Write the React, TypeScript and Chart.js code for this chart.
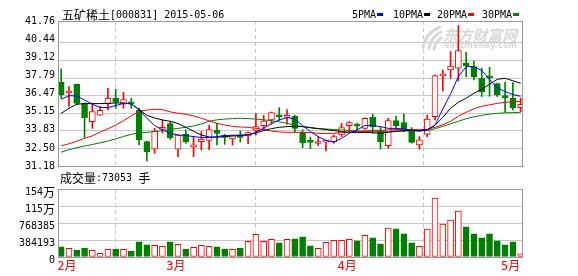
import React, { useEffect, useRef } from 'react';
import { Chart, registerables } from 'chart.js';

Chart.register(...registerables);

// ---------------- data ----------------
const stockTitle = '五矿稀土[000831] 2015-05-06';
const volumeTitle = '成交量:73053 手';
const maLegend = ['5PMA', '10PMA', '20PMA', '30PMA'];
const maColors = ['#0000ff', '#000000', '#ff0000', '#008000'];

const monthTickIndex = [0, 14, 36, 57];
const monthLabels = ['2月', '3月', '4月', '5月'];

const priceTickValues = [31.18, 32.5, 33.83, 35.15, 36.47, 37.79, 39.12, 40.44, 41.76];
const priceTickLabels = ['31.18', '32.50', '33.83', '35.15', '36.47', '37.79', '39.12', '40.44', '41.76'];
const priceGridValues = [32.5, 33.83, 35.15, 36.47, 37.79, 39.12, 40.44];

const volTickValues = [0, 384193, 768385, 1152578, 1536772];
const volTickLabels = ['0', '384193', '768385', '115万', '154万'];

const openPrices = [
  37.47, 36.67, 37.32, 35.89, 34.52, 35.01, 35.87, 36.27, 35.82, 35.90,
  35.37, 33.01, 32.44, 33.94, 34.37, 32.44, 33.56, 32.62, 33.01, 33.11,
  33.86, 33.39, 33.21, 33.49, 33.45, 33.86, 34.22, 34.64, 35.00, 34.84,
  34.93, 33.71, 32.99, 32.87, 32.98, 33.01, 33.51, 34.22, 34.24, 34.01,
  34.84, 33.75, 32.71, 34.59, 34.44, 33.94, 32.76, 33.56, 34.89, 37.95,
  38.40, 38.53, 38.90, 38.65, 37.77, 37.85, 37.38, 36.47, 36.27, 35.57,
];
const highPrices = [
  38.47, 37.15, 37.35, 35.92, 35.89, 35.65, 37.02, 36.95, 36.72, 36.27,
  35.52, 33.05, 34.01, 34.64, 34.52, 33.55, 33.89, 33.39, 33.77, 34.24,
  34.39, 33.56, 33.49, 33.81, 33.75, 35.12, 34.97, 35.24, 35.57, 35.42,
  35.00, 33.90, 33.36, 33.39, 33.13, 33.51, 34.39, 34.52, 34.39, 34.80,
  35.07, 34.09, 34.77, 34.94, 35.09, 34.07, 33.39, 35.01, 38.02, 38.40,
  39.78, 41.74, 39.73, 39.07, 38.53, 38.60, 37.40, 37.49, 37.45, 36.27,
];
const lowPrices = [
  36.27, 35.65, 35.80, 33.31, 34.01, 34.98, 35.39, 35.52, 35.52, 35.52,
  32.76, 31.56, 32.13, 33.64, 33.18, 31.89, 32.89, 31.89, 32.38, 32.41,
  32.76, 32.81, 32.76, 32.98, 32.85, 33.51, 33.86, 34.32, 34.61, 34.32,
  33.71, 32.56, 32.49, 32.72, 32.31, 32.89, 33.39, 33.77, 33.89, 33.94,
  33.64, 32.46, 32.51, 34.01, 33.77, 32.90, 32.44, 33.39, 34.64, 36.82,
  37.77, 37.57, 37.90, 37.65, 36.40, 36.42, 36.40, 35.24, 35.37, 35.27,
];
const closePrices = [
  36.52, 36.82, 35.89, 34.82, 35.27, 35.37, 36.27, 35.97, 36.17, 35.85,
  33.14, 32.26, 33.81, 34.06, 33.31, 33.51, 33.01, 32.69, 33.21, 33.92,
  33.62, 33.33, 33.47, 33.32, 33.69, 34.14, 34.56, 35.19, 34.88, 34.90,
  34.01, 32.94, 32.96, 32.92, 33.06, 33.39, 34.07, 34.44, 34.18, 34.77,
  34.13, 33.01, 34.59, 34.22, 33.89, 32.96, 33.14, 34.71, 37.98, 38.02,
  38.70, 39.86, 38.70, 37.90, 36.77, 37.80, 36.52, 36.32, 35.56, 35.82,
];

const ma5 = [
  36.19, 36.47, 36.44, 36.14, 35.82, 35.59, 35.57, 35.72, 35.89, 35.87,
  35.39, 34.77, 34.22, 33.89, 33.64, 33.51, 33.47, 33.39, 33.32, 33.32,
  33.39, 33.47, 33.49, 33.51, 33.51, 33.71, 34.01, 34.37, 34.64, 34.82,
  34.71, 34.22, 33.77, 33.39, 33.10, 32.98, 33.26, 33.64, 33.89, 34.22,
  34.22, 34.14, 34.01, 34.01, 33.96, 33.86, 33.81, 33.89, 34.26, 35.47,
  36.60, 37.90, 38.65, 38.65, 38.36, 37.68, 37.05, 36.78, 36.55, 36.42,
];
const ma10 = [
  35.14, 35.52, 35.82, 35.87, 35.87, 35.87, 35.89, 35.92, 35.92, 35.84,
  35.44, 34.99, 34.79, 34.64, 34.54, 34.37, 34.09, 33.79, 33.51, 33.36,
  33.34, 33.39, 33.44, 33.47, 33.54, 33.66, 33.84, 33.99, 34.09, 34.14,
  34.16, 34.14, 34.07, 33.99, 33.92, 33.84, 33.77, 33.71, 33.69, 33.71,
  33.68, 33.64, 33.71, 33.79, 33.83, 33.86, 33.86, 33.90, 34.24, 34.84,
  35.52, 35.97, 36.27, 36.65, 36.95, 37.32, 37.70, 37.77, 37.59, 37.40,
];
const ma20 = [
  32.70, 32.85, 33.05, 33.25, 33.45, 33.72, 33.98, 34.25, 34.58, 34.95,
  35.28, 35.39, 35.44, 35.42, 35.25, 35.14, 35.07, 34.94, 34.77, 34.57,
  34.39, 34.26, 34.16, 34.11, 34.09, 34.01, 33.92, 33.81, 33.74, 33.71,
  33.71, 33.71, 33.69, 33.64, 33.62, 33.64, 33.69, 33.74, 33.77, 33.82,
  33.86, 33.86, 33.90, 33.92, 33.92, 33.90, 33.90, 33.94, 34.09, 34.28,
  34.54, 34.92, 35.22, 35.48, 35.67, 35.78, 35.89, 35.97, 36.01, 36.04,
];
const ma30 = [
  32.22, 32.40, 32.56, 32.68, 32.80, 32.92, 33.05, 33.22, 33.40, 33.56,
  33.67, 33.71, 33.77, 33.84, 33.94, 34.01, 34.09, 34.19, 34.34, 34.55,
  34.65, 34.71, 34.74, 34.77, 34.74, 34.71, 34.65, 34.58, 34.50, 34.39,
  34.24, 34.13, 34.05, 34.00, 33.96, 33.92, 33.89, 33.85, 33.81, 33.76,
  33.75, 33.77, 33.79, 33.80, 33.81, 33.81, 33.81, 33.84, 33.98, 34.16,
  34.35, 34.54, 34.73, 34.88, 34.99, 35.08, 35.14, 35.18, 35.19, 35.22,
];

const volumes = [
  227100, 196800, 159000, 204400, 151400, 83300, 174100, 181700, 174100, 136300,
  340700, 272500, 265000, 242200, 340700, 287700, 181700, 219500, 265000, 242200,
  227100, 181700, 174100, 204400, 355800, 514800, 355800, 401200, 318000, 401200,
  408800, 454200, 249800, 196800, 333100, 378500, 378500, 401200, 363400, 492100,
  431500, 295200, 651000, 635900, 522300, 318000, 242200, 628300, 1332400, 741900,
  832700, 1037100, 681300, 522300, 431500, 522300, 363400, 272500, 340700, 73053,
];

// ---------------- drawing helpers ----------------
const W = 578;
const H = 276;
const UP = '#ff0000';
const DOWN = '#008000';
const GRID = '#c8c8c8';
const FRAME = '#999999';
const CJK_FONT = '12px "Noto Sans CJK SC"';
const MONO_FONT = '10px "DejaVu Sans Mono"';
const CJK_RE = /[\u2E80-\u9FFF\uF900-\uFAFF\uFF00-\uFFEF\u3000-\u303F]/;

function drawMixedText(ctx: CanvasRenderingContext2D, text: string, x: number, y: number, align: 'left' | 'right' = 'left', color = '#000') {
  const parts: { t: string; cjk: boolean; w: number }[] = [];
  for (const ch of Array.from(text)) {
    const cjk = CJK_RE.test(ch);
    const last = parts[parts.length - 1];
    if (last && last.cjk === cjk) last.t += ch;
    else parts.push({ t: ch, cjk, w: 0 });
  }
  ctx.save();
  let total = 0;
  for (const p of parts) {
    ctx.font = p.cjk ? CJK_FONT : MONO_FONT;
    p.w = ctx.measureText(p.t).width;
    total += p.w;
  }
  let cx = align === 'right' ? x - total : x;
  ctx.fillStyle = color;
  ctx.textBaseline = 'middle';
  ctx.textAlign = 'left';
  for (const p of parts) {
    ctx.font = p.cjk ? CJK_FONT : MONO_FONT;
    ctx.fillText(p.t, cx, y);
    cx += p.w;
  }
  ctx.restore();
  return total;
}

function drawFrame(chart: any) {
  const { left, right, top, bottom } = chart.chartArea;
  const ctx = chart.ctx;
  ctx.save();
  ctx.strokeStyle = FRAME;
  ctx.lineWidth = 1;
  ctx.strokeRect(left + 0.5, top + 0.5, right - left, bottom - top);
  ctx.restore();
}

const X_MIN = -0.41;
const X_MAX = 59.17;

export default function App() {
  const priceRef = useRef<HTMLCanvasElement>(null);
  const volRef = useRef<HTMLCanvasElement>(null);

  useEffect(() => {
    const isUp = closePrices.map((c, i) => c >= openPrices[i]);
    const candleColor = isUp.map((u) => (u ? UP : DOWN));
    const bodyFill = isUp.map((u) => (u ? '#ffffff' : DOWN));

    const line = (vals: number[], color: string) => ({
      type: 'line' as const,
      data: vals.map((v, i) => ({ x: i, y: v })),
      borderColor: color,
      borderWidth: 1,
      pointRadius: 0,
      tension: 0,
      fill: false,
    });

    const pricePlugin = {
      id: 'priceDecor',
      beforeDatasetsDraw(chart: any) {
        const ctx = chart.ctx;
        ctx.save();
        // watermark logo
        ctx.strokeStyle = '#d8d8d8';
        ctx.lineCap = 'round';
        ctx.lineWidth = 3;
        ctx.beginPath();
        ctx.moveTo(423, 47);
        ctx.quadraticCurveTo(426, 33, 440, 27);
        ctx.moveTo(429, 48);
        ctx.quadraticCurveTo(431, 37, 441, 32);
        ctx.moveTo(434, 49);
        ctx.quadraticCurveTo(436, 41, 441, 38);
        ctx.stroke();
        ctx.fillStyle = '#d8d8d8';
        ctx.textBaseline = 'middle';
        ctx.font = 'italic bold 15px "Noto Sans CJK SC"';
        ctx.fillText('东方财富网', 443, 35, 74);
        ctx.font = 'bold 9px "DejaVu Sans"';
        ctx.fillText('eastmoney.com', 444, 46, 73);
        ctx.restore();
      },
      afterDraw(chart: any) {
        const ctx = chart.ctx;
        drawFrame(chart);
        drawMixedText(ctx, stockTitle, 62, 15);
        const legendX = [352, 393, 437, 482];
        maLegend.forEach((label, k) => {
          const w = drawMixedText(ctx, label, legendX[k], 15);
          ctx.save();
          ctx.fillStyle = maColors[k];
          ctx.fillRect(legendX[k] + w + 1, 13, 6, 3);
          ctx.restore();
        });
      },
    };

    const priceChart = new Chart(priceRef.current as HTMLCanvasElement, {
      type: 'bar',
      data: {
        datasets: [
          line(ma5, maColors[0]),
          line(ma10, maColors[1]),
          line(ma20, maColors[2]),
          line(ma30, maColors[3]),
          {
            type: 'bar',
            data: openPrices.map((o, i) => ({ x: i, y: [o, closePrices[i]] })) as any,
            backgroundColor: bodyFill,
            borderColor: candleColor,
            borderWidth: 1,
            borderSkipped: false,
            barThickness: 6,
            grouped: false,
            minBarLength: 2,
          },
          {
            type: 'bar',
            data: lowPrices.map((l, i) => ({ x: i, y: [l, highPrices[i]] })) as any,
            backgroundColor: candleColor,
            borderWidth: 0,
            barThickness: 1,
            grouped: false,
          },
        ] as any,
      },
      options: {
        responsive: false,
        animation: false,
        devicePixelRatio: 1,
        events: [],
        layout: { padding: { left: 0, right: 56, top: 21, bottom: 110 } },
        plugins: { legend: { display: false }, tooltip: { enabled: false } },
        scales: {
          x: {
            type: 'linear',
            min: X_MIN,
            max: X_MAX,
            offset: false,
            afterBuildTicks: (s: any) => { s.ticks = monthTickIndex.map((v) => ({ value: v })); },
            afterFit: (s: any) => { s.height = 0; },
            grid: { color: GRID, drawTicks: false },
            border: { display: false, dash: [4, 3] },
            ticks: { display: false },
          },
          y: {
            position: 'left',
            min: 31.18,
            max: 42.08,
            afterBuildTicks: (s: any) => { s.ticks = priceGridValues.map((v) => ({ value: v })); },
            afterFit: (s: any) => { s.width = 0; },
            grid: { color: GRID, drawTicks: false },
            border: { display: false },
            ticks: { display: false },
          },
          yl: {
            position: 'left',
            min: 31.18,
            max: 41.76,
            afterBuildTicks: (s: any) => { s.ticks = priceTickValues.map((v) => ({ value: v })); },
            afterFit: (s: any) => { s.width = 58; },
            grid: { display: false, drawTicks: false },
            border: { display: false },
            ticks: {
              padding: 3,
              color: '#000',
              font: { family: '"DejaVu Sans Mono"', size: 10 },
              callback: (_v: any, i: number) => priceTickLabels[i],
            },
          },
        } as any,
      },
      plugins: [pricePlugin],
    });

    const volPlugin = {
      id: 'volDecor',
      afterDraw(chart: any) {
        const ctx = chart.ctx;
        drawFrame(chart);
        const ys = chart.scales.y;
        volTickValues.forEach((v, k) => {
          drawMixedText(ctx, volTickLabels[k], 55, ys.getPixelForValue(v) + 3.5, 'right');
        });
        drawMixedText(ctx, volumeTitle, 60, 178);
      },
    };

    const volChart = new Chart(volRef.current as HTMLCanvasElement, {
      type: 'bar',
      data: {
        datasets: [
          {
            data: volumes.map((v, i) => ({ x: i, y: v })) as any,
            backgroundColor: bodyFill,
            borderColor: candleColor,
            borderWidth: 1,
            borderSkipped: false,
            barThickness: 6,
            grouped: false,
          },
        ],
      },
      options: {
        responsive: false,
        animation: false,
        devicePixelRatio: 1,
        events: [],
        layout: { padding: { left: 0, right: 56, top: 189, bottom: 0 } },
        plugins: { legend: { display: false }, tooltip: { enabled: false } },
        scales: {
          x: {
            type: 'linear',
            min: X_MIN,
            max: X_MAX,
            offset: false,
            afterBuildTicks: (s: any) => { s.ticks = monthTickIndex.map((v) => ({ value: v })); },
            afterFit: (s: any) => { s.height = 19; },
            grid: { color: GRID, drawTicks: false },
            border: { display: false, dash: [4, 3] },
            ticks: {
              autoSkip: false,
              maxRotation: 0,
              align: 'start',
              labelOffset: -4,
              padding: 3,
              color: '#ff0000',
              font: { family: '"DejaVu Sans Mono", "Noto Sans CJK SC"', size: 12 },
              callback: (_v: any, i: number) => monthLabels[i],
            },
          },
          y: {
            position: 'left',
            min: 0,
            max: 1536772,
            afterBuildTicks: (s: any) => { s.ticks = volTickValues.map((v) => ({ value: v })); },
            afterFit: (s: any) => { s.width = 58; },
            grid: { color: GRID, drawTicks: false },
            border: { display: false },
            ticks: { display: false },
          },
        } as any,
      },
      plugins: [volPlugin],
    });

    return () => {
      priceChart.destroy();
      volChart.destroy();
    };
  }, []);

  return (
    <div style={{ position: 'absolute', left: 0, top: 0, width: W, height: H, background: '#ffffff' }}>
      <canvas ref={priceRef} width={W} height={H} style={{ position: 'absolute', left: 0, top: 0, width: W, height: H }} />
      <canvas ref={volRef} width={W} height={H} style={{ position: 'absolute', left: 0, top: 0, width: W, height: H }} />
    </div>
  );
}
